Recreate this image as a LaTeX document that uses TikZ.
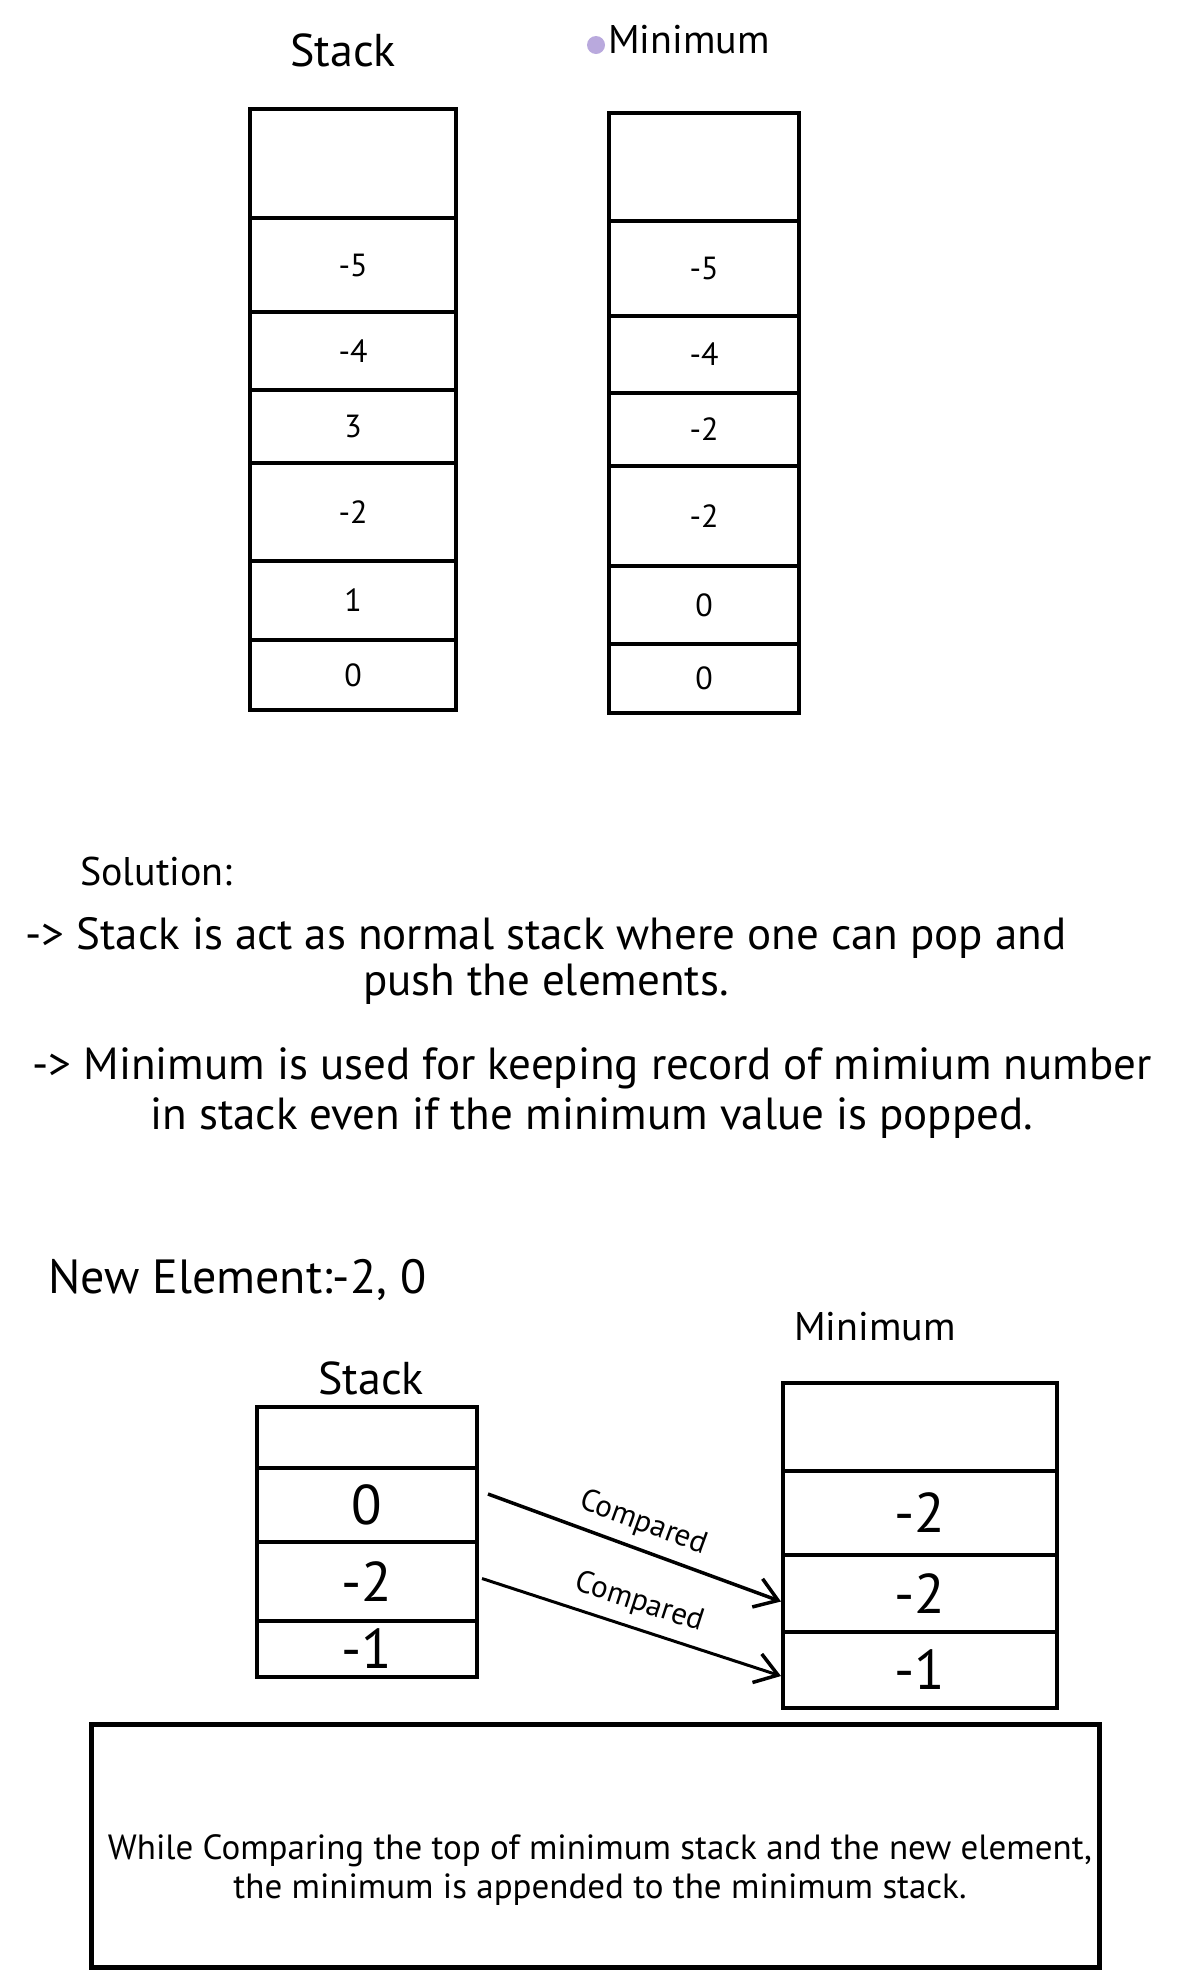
\documentclass[tikz,border=0pt]{standalone}
\usepackage{fontspec}
\setmainfont{PT Sans}
\usetikzlibrary{arrows.meta}
\definecolor{dotpurple}{HTML}{B9A9DD}
\tikzset{
  cell/.style={draw, line width=4pt, inner sep=0pt, anchor=north west, font=\fontsize{32}{38}\selectfont},
  bigcell/.style={cell, font=\fontsize{56}{66}\selectfont},
  title/.style={font=\fontsize{40}{48}\selectfont, inner sep=0pt},
  prose/.style={font=\fontsize{45}{52}\selectfont, inner sep=0pt, align=center},
  cmp/.style={font=\fontsize{31}{36}\selectfont, inner sep=0pt},
  conn/.style={line width=3.5pt, -{Straight Barb[length=22pt,width=30pt,line width=3.5pt]}}
}
\begin{document}
\begin{tikzpicture}[x=1pt,y=-1pt]
\useasboundingbox (0,0) rectangle (1179,1971);
% top titles
\node[title, font=\fontsize{46}{54}\selectfont] (tstack) at (343,50) {Stack};
\node[title] (tmin) at (689,40) {Minimum};
\fill[dotpurple] (596,45) circle (9);
% top stack
\node[cell, minimum width=206pt, minimum height=109pt] (ts0) at (248,107) {};
\node[cell, minimum width=206pt, minimum height=94pt] (ts1) at (248,216) {-5};
\node[cell, minimum width=206pt, minimum height=78pt] (ts2) at (248,310) {-4};
\node[cell, minimum width=206pt, minimum height=73pt] (ts3) at (248,388) {3};
\node[cell, minimum width=206pt, minimum height=98pt] (ts4) at (248,461) {-2};
\node[cell, minimum width=206pt, minimum height=79pt] (ts5) at (248,559) {1};
\node[cell, minimum width=206pt, minimum height=70pt] (ts6) at (248,638) {0};
% top minimum
\node[cell, minimum width=190pt, minimum height=108pt] (tm0) at (607,111) {};
\node[cell, minimum width=190pt, minimum height=95pt] (tm1) at (607,219) {-5};
\node[cell, minimum width=190pt, minimum height=77pt] (tm2) at (607,314) {-4};
\node[cell, minimum width=190pt, minimum height=73pt] (tm3) at (607,391) {-2};
\node[cell, minimum width=190pt, minimum height=100pt] (tm4) at (607,464) {-2};
\node[cell, minimum width=190pt, minimum height=78pt] (tm5) at (607,564) {0};
\node[cell, minimum width=190pt, minimum height=69pt] (tm6) at (607,642) {0};
% solution text
\node[title, anchor=west] (sol) at (80,871) {Solution:};
\node[prose] (p1) at (546,961) {-> Stack is act as normal stack where one can pop and\\[-6pt]push the elements.};
\node[prose] (p2) at (592,1093) {-> Minimum is used for keeping record of mimium number\\[-2pt]in stack even if the minimum value is popped.};
% new element
\node[title, anchor=west, font=\fontsize{48}{56}\selectfont] (newel) at (48,1280) {New Element:-2, 0};
\node[title] (bmin) at (875,1327) {Minimum};
\node[title, font=\fontsize{46}{54}\selectfont] (bstack) at (371,1378) {Stack};
% bottom stack
\node[bigcell, minimum width=220pt, minimum height=61pt] (bs0) at (255,1405) {};
\node[bigcell, minimum width=220pt, minimum height=74pt] (bs1) at (255,1466) {0};
\node[bigcell, minimum width=220pt, minimum height=79pt] (bs2) at (255,1540) {-2};
\node[bigcell, minimum width=220pt, minimum height=56pt] (bs3) at (255,1619) {-1};
% bottom minimum
\node[bigcell, minimum width=274pt, minimum height=88pt] (bm0) at (781,1381) {};
\node[bigcell, minimum width=274pt, minimum height=84pt] (bm1) at (781,1469) {-2};
\node[bigcell, minimum width=274pt, minimum height=77pt] (bm2) at (781,1553) {-2};
\node[bigcell, minimum width=274pt, minimum height=76pt] (bm3) at (781,1630) {-1};
% connectors
\draw[conn] ([xshift=9pt,yshift=11pt]bs1.east) -- ([yshift=-8pt]bm2.west) node[cmp, midway, above=10pt, sloped] {Compared};
\draw[conn, line width=3pt] ([xshift=3pt,yshift=3pt]bs2.east) -- ([yshift=-6pt]bm3.west) node[cmp, midway, above=10pt, sloped] {Compared};
% bottom note
\node[draw, line width=5pt, minimum width=1008pt, minimum height=243pt, anchor=north west, inner sep=0pt] (note) at (89,1722) {};
\node[font=\fontsize{35}{39}\selectfont, align=center, inner sep=0pt] (notetext) at (600,1870) {While Comparing the top of minimum stack and the new element,\\the minimum is appended to the minimum stack.};
\end{tikzpicture}
\end{document}
